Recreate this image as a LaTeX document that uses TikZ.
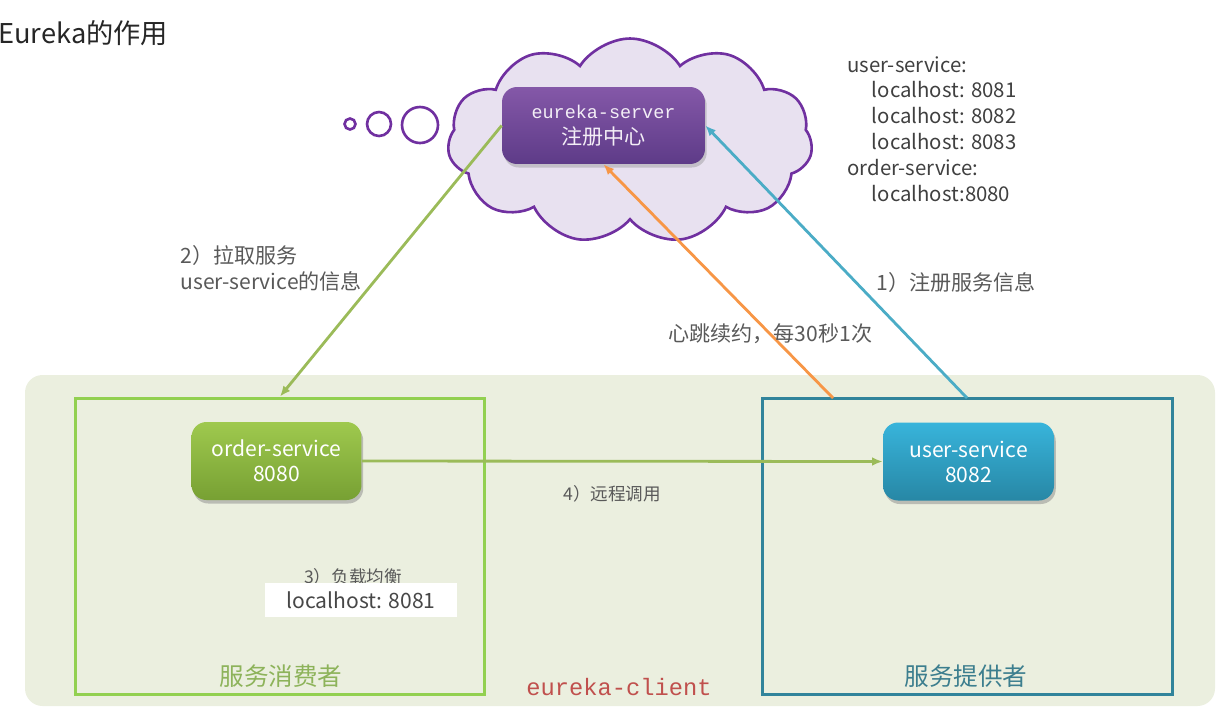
\documentclass[tikz,border=0pt]{standalone}
\usepackage{fontspec}
\setmainfont{Noto Sans CJK SC}
\newfontfamily\codefont{Liberation Mono}
\usetikzlibrary{shapes.symbols, positioning, arrows.meta, shadows}

\definecolor{cloudfill}{HTML}{E8E1F0}
\definecolor{cloudline}{HTML}{7030A0}
\definecolor{srvtop}{HTML}{8458A8}
\definecolor{srvbot}{HTML}{5E3B88}
\definecolor{ordtop}{HTML}{9FC94E}
\definecolor{ordbot}{HTML}{77A033}
\definecolor{usrtop}{HTML}{38B4DB}
\definecolor{usrbot}{HTML}{2787A5}
\definecolor{clientbg}{HTML}{EBEFDF}
\definecolor{consline}{HTML}{92D050}
\definecolor{provline}{HTML}{31849B}
\definecolor{pullline}{HTML}{9BBB59}
\definecolor{beatline}{HTML}{F79646}
\definecolor{regline}{HTML}{4BACC6}
\definecolor{labelgray}{HTML}{595959}
\definecolor{constext}{HTML}{8DB35A}
\definecolor{provtext}{HTML}{3C7E8E}
\definecolor{clienttext}{HTML}{C0504D}

\tikzset{
  server/.style={rectangle, rounded corners=0.3cm, minimum width=4.06cm, minimum height=1.54cm, top color=srvtop, bottom color=srvbot, text=white!90!srvtop, align=center, drop shadow={shadow xshift=1pt, shadow yshift=-2pt, opacity=0.35}},
  service/.style={rectangle, rounded corners=0.3cm, minimum width=3.4cm, minimum height=1.56cm, text=white, align=center, font=\fontsize{12}{14.2}\selectfont, drop shadow={shadow xshift=1pt, shadow yshift=-2pt, opacity=0.45}},
  group/.style={rectangle, draw, line width=1.7pt, minimum width=8.2cm, minimum height=5.94cm, inner sep=0pt},
  note/.style={text=labelgray, align=left, inner sep=0pt, font=\fontsize{12}{14.7}\selectfont},
  smallnote/.style={text=labelgray, inner sep=0pt, font=\fontsize{10}{12}\selectfont},
  flow/.style={line width=1.6pt, -{Latex[length=6pt, width=5pt]}}
}

\begin{document}
\begin{tikzpicture}[x=0.02cm, y=-0.02cm]
    \useasboundingbox (0,0) rectangle (1219,707);

    % titulo
    \node[anchor=west, inner sep=0pt, text=black!85, font=\fontsize{15.5}{18}\selectfont] (title) at (-2,33) {Eureka的作用};

    % -------------------------------------------------------------
    % NUBE DEL REGISTRO
    % -------------------------------------------------------------
    \node[cloud, cloud puffs=11, cloud puff arc=115, aspect=1.85, minimum width=7.3cm, minimum height=4.1cm, draw=cloudline, fill=cloudfill, line width=1.5pt] (cloud) at (630,141) {};
    \draw[cloudline, line width=1.5pt] (350,124) circle (5.5);
    \draw[cloudline, line width=1.5pt] (379,124) circle (12);
    \draw[cloudline, line width=1.5pt] (420,125) circle (18);

    \node[server] (server) at (603.5,125.5) {{\codefont\fontsize{10.5}{15}\selectfont eureka-server}\\[3pt]{\fontsize{12}{14}\selectfont 注册中心}};

    % lista de servicios registrados
    \node[note, anchor=north west, text=black!75, font=\fontsize{11.6}{14.7}\selectfont] (registry) at (847,56) {user-service:\\
        \hspace*{14pt}localhost: 8081\\
        \hspace*{14pt}localhost: 8082\\
        \hspace*{14pt}localhost: 8083\\
        order-service:\\
        \hspace*{14pt}localhost:8080};

    % -------------------------------------------------------------
    % ZONA EUREKA-CLIENT
    % -------------------------------------------------------------
    \fill[clientbg, rounded corners=0.35cm] (25,375) rectangle (1215,706);

    \node[group, draw=consline] (consumer) at (280,546.5) {};
    \node[group, draw=provline] (provider) at (967.5,546.5) {};

    \node[service, top color=ordtop, bottom color=ordbot] (order) at (276.5,461) {order-service\\8080};
    \node[service, top color=usrtop, bottom color=usrbot, minimum width=3.42cm] (user) at (968.5,461.5) {user-service\\8082};

    \node[text=constext, inner sep=0pt, font=\fontsize{14}{16}\selectfont] (consname) at (281,676) {服务消费者};
    \node[text=provtext, inner sep=0pt, font=\fontsize{14}{16}\selectfont] (provname) at (966,676) {服务提供者};
    \node[text=clienttext, inner sep=0pt, font=\codefont\fontsize{13.5}{16}\selectfont] (clientname) at (619,687) {eureka-client};

    % balanceo de carga
    \node[smallnote] (lb) at (353,577) {3）负载均衡};
    \node[fill=white, minimum width=3.84cm, minimum height=0.68cm, inner sep=0pt, text=labelgray!80!black, font=\fontsize{12}{14}\selectfont] (pick) at (361,600) {localhost: 8081};

    % -------------------------------------------------------------
    % FLECHAS
    % -------------------------------------------------------------
    \coordinate (beatstart) at (833,398);
    \coordinate (regstart) at (967,398);

    \draw[flow, pullline] (server.west) -- (consumer.north);
    \draw[flow, beatline] (beatstart) -- (server.south);
    \draw[flow, regline] (regstart) -- (server.east);
    \draw[flow, pullline] (order.east) -- (user.west);

    % textos de las flechas
    \node[note, anchor=west] (pulltext) at (180,268) {2）拉取服务\\user-service的信息};
    \node[note, anchor=west] (regtext) at (876,282) {1）注册服务信息};
    \node[note, anchor=west] (beattext) at (668,334) {心跳续约，每30秒1次};
    \node[smallnote, anchor=west] (calltext) at (563,494) {4）远程调用};

\end{tikzpicture}
\end{document}
